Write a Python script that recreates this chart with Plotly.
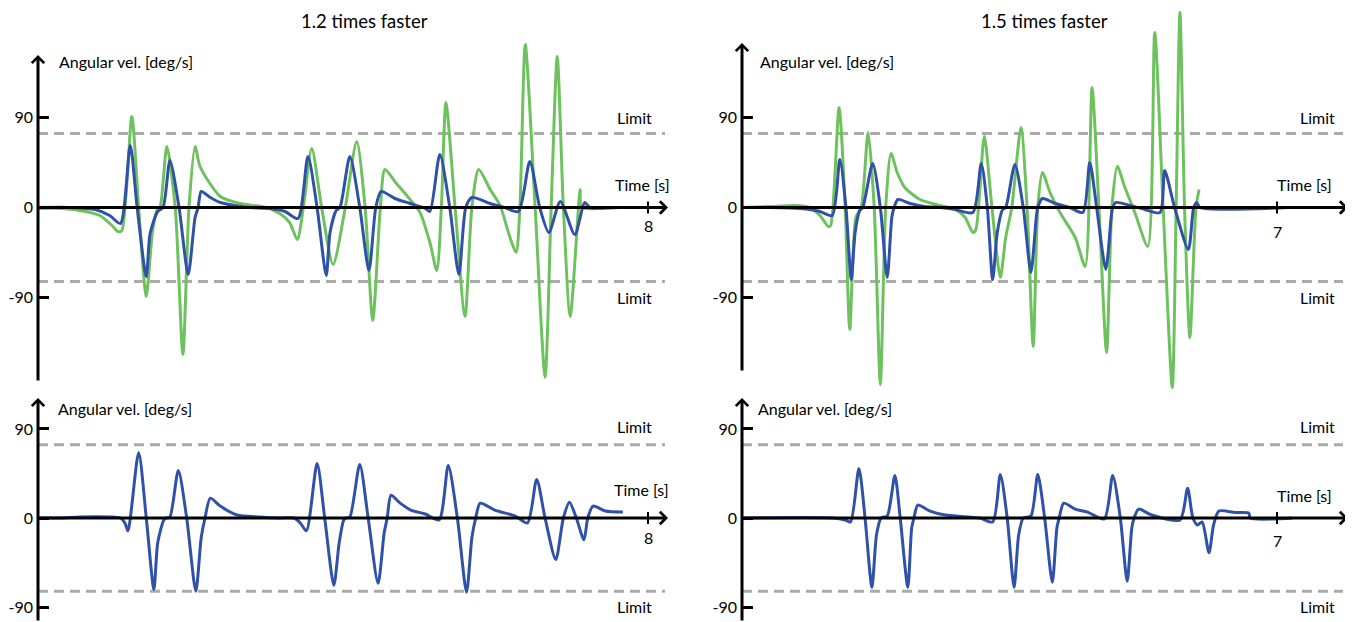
import plotly.graph_objects as go

# ---------------- data (time in s, angular velocity in deg/s) ----------------
tl_blue_t = [0, 0.42, 0.75, 0.94, 1.08, 1.21, 1.30, 1.42, 1.47, 1.57, 1.64, 1.73, 1.85, 1.97, 2.06, 2.10, 2.14, 2.26, 2.39, 2.58,
             2.78, 3.04, 3.24, 3.41, 3.54, 3.66, 3.78, 3.83, 3.91, 3.96, 4.09, 4.22, 4.34, 4.43, 4.50, 4.68, 4.88, 5.08, 5.14, 5.27,
             5.40, 5.52, 5.61, 5.69, 5.93, 6.12, 6.30, 6.45, 6.58, 6.70, 6.85, 7.04, 7.17, 7.24, 7.63]
tl_blue_v = [0, 0, -2, -8, -16, 62, 0, -69, -26, -4, 0, 47, 0, -67, -10, 0, 16, 10, 5, 2,
             0, -1, -4, -11, 51, 0, -68, -25, -3, 0, 51, 0, -63, 0, 16, 9, 4, -1, -4, 53,
             0, -67, 0, 10, 4, 0, -4, 46, 0, -25, 6, -27, 5, 0, 0]

tl_green_t = [0, 0.29, 0.55, 0.81, 0.97, 1.05, 1.10, 1.23, 1.32, 1.42, 1.50, 1.56, 1.60, 1.69, 1.80, 1.90, 1.98, 2.06, 2.12, 2.22,
              2.39, 2.65, 3.00, 3.17, 3.30, 3.40, 3.48, 3.59, 3.72, 3.87, 4.03, 4.18, 4.29, 4.39, 4.49, 4.55, 4.68, 4.88, 5.01, 5.14,
              5.23, 5.29, 5.35, 5.47, 5.60, 5.69, 5.78, 5.93, 6.06, 6.19, 6.27, 6.32, 6.39, 6.52, 6.65, 6.73, 6.81, 6.89, 6.98, 7.11,
              7.13, 7.45]
tl_green_v = [-1, -1, -3, -8, -18, -24, -23, 91, 0, -89, -25, -3, 0, 61, 0, -147, 0, 61, 42, 28,
              11, 4, 0, -6, -15, -32, 0, 59, 0, -57, 0, 66, 0, -113, 0, 38, 26, 8, -5, -35,
              -63, 0, 105, 0, -109, 0, 38, 18, 2, -30, -45, 0, 163, 0, -170, 0, 151, 0, -109, 18,
              0, 0]

tr_blue_t = [0, 0.37, 0.76, 1.02, 1.18, 1.28, 1.36, 1.43, 1.48, 1.54, 1.58, 1.71, 1.81, 1.90, 1.96, 1.99, 2.04, 2.20, 2.39, 2.59,
             2.79, 3.02, 3.13, 3.21, 3.28, 3.34, 3.41, 3.45, 3.57, 3.68, 3.78, 3.85, 3.87, 3.93, 4.10, 4.29, 4.46, 4.55, 4.64, 4.76,
             4.83, 4.85, 4.89, 5.08, 5.27, 5.47, 5.53, 5.66, 5.84, 5.91, 5.95, 5.99, 7.14]
tr_blue_v = [0, 0, -1, -4, -8, 48, 0, -72, -25, -3, 0, 44, 0, -70, -10, 0, 8, 4, 1, 0,
             -2, -5, 44, 0, -72, -25, -2, 0, 43, 0, -65, -10, 0, 9, 4, 0, -5, 45, 0, -62,
             -10, 0, 5, 2, -2, -5, 37, 0, -42, 0, 5, 0, 0]

tr_green_t = [0, 0.37, 0.69, 0.89, 1.02, 1.13, 1.16, 1.27, 1.35, 1.41, 1.49, 1.56, 1.65, 1.73, 1.81, 1.88, 1.95, 2.03, 2.13, 2.33,
              2.59, 2.79, 2.92, 3.02, 3.06, 3.17, 3.27, 3.38, 3.45, 3.53, 3.65, 3.73, 3.81, 3.87, 3.93, 4.03, 4.16, 4.36, 4.49, 4.58,
              4.67, 4.77, 4.84, 4.91, 5.01, 5.14, 5.31, 5.40, 5.51, 5.63, 5.68, 5.73, 5.79, 5.86, 5.94, 5.98]
tr_green_v = [0, 1, 2, 0, -8, -19, -18, 100, 0, -122, -10, 0, 75, 0, -177, 0, 54, 35, 20, 8,
              2, -2, -10, -25, -22, 71, 0, -70, -30, 0, 80, 0, -139, 0, 35, 15, -5, -30, -59, 120,
              0, -145, 0, 41, 20, -5, -39, 175, 0, -180, 0, 195, 0, -130, 0, 18]

bl_blue_t = [0, 0.29, 0.55, 0.94, 1.08, 1.14, 1.18, 1.32, 1.42, 1.52, 1.57, 1.65, 1.68, 1.73, 1.84, 1.95, 2.07, 2.14, 2.19, 2.26,
             2.39, 2.61, 2.91, 3.17, 3.36, 3.44, 3.52, 3.66, 3.76, 3.88, 3.95, 4.01, 4.04, 4.09, 4.22, 4.33, 4.46, 4.54, 4.58, 4.63,
             4.75, 4.89, 5.08, 5.26, 5.38, 5.50, 5.62, 5.69, 5.74, 5.80, 5.99, 6.26, 6.42, 6.54, 6.65, 6.79, 6.89, 6.97, 7.06, 7.16,
             7.21, 7.28, 7.44, 7.67]
bl_blue_v = [0, 0, 1, 1, 0, -5, -13, 66, 0, -72, -25, -2, 0, 1, 48, 0, -74, -20, 0, 20,
             12, 3, 1, 0, 0, -5, -13, 55, 0, -68, -25, -2, 0, 1, 54, 0, -66, -15, 0, 23,
             15, 8, 4, -2, 53, 0, -75, -20, 0, 15, 8, 2, -5, 39, 0, -42, 0, 16, 0, -22,
             0, 12, 7, 6]

br_blue_t = [0, 1.19, 1.35, 1.42, 1.53, 1.61, 1.70, 1.76, 1.82, 1.90, 2.00, 2.07, 2.17, 2.22, 2.25, 2.30, 2.46, 2.66, 3.11, 3.28,
             3.38, 3.47, 3.56, 3.62, 3.68, 3.78, 3.87, 3.96, 4.06, 4.12, 4.15, 4.21, 4.36, 4.52, 4.74, 4.85, 4.95, 5.04, 5.10, 5.13,
             5.19, 5.36, 5.73, 5.83, 5.90, 5.96, 6.02, 6.11, 6.17, 6.24, 6.45, 6.63, 6.65, 7.20]
br_blue_v = [0, 0, -2, -4, 50, 0, -70, -17, 0, 2, 43, 0, -70, -10, 0, 13, 7, 3, 0, -4,
             44, 0, -70, -17, 0, 2, 44, 0, -65, -10, 0, 15, 9, 6, -1, 43, 0, -64, -10, 0,
             9, 3, -2, 30, 0, -7, -4, -35, -7, 7, 5.5, 5, 0, 0]

titles = ["1.2 times faster", "1.5 times faster"]
y_label = "Angular vel. [deg/s]"
x_label = "Time [s]"
limit_text = "Limit"
y_ticks = [-90, 0, 90]
y_tick_text = ["-90", "0", "90"]
limit_value = 74
x_end_tick = [8, 7, 8, 7]

# ---------------- layout geometry (page pixels; page has an 8 px body margin) ----------------
OFF = 8
PAGE_W, PAGE_H = 1353, 622
W, H = PAGE_W - OFF, PAGE_H - OFF
BLUE = "#2F52A8"
GREEN = "#6EC25E"
GRAY = "#AAAAAA"
FONT = "Lato"
PPS_L, PPS_R = 76.25, 76.43      # pixels per second
X0_L, X0_R = 38, 742             # page x of t = 0
SPLIT = 390                      # page y split between rows
TOP_ZERO, TOP_SCALE = 207.5, 1.0
BOT_ZERO, BOT_SCALE = 518.0, 0.99


def px(p):
    return (p - OFF) / W


def py(p):
    return 1 - (p - OFF) / H


fig = go.Figure()

panels = [
    ("x", "y", [(tl_green_t, tl_green_v, GREEN), (tl_blue_t, tl_blue_v, BLUE)]),
    ("x2", "y2", [(tr_green_t, tr_green_v, GREEN), (tr_blue_t, tr_blue_v, BLUE)]),
    ("x3", "y3", [(bl_blue_t, bl_blue_v, BLUE)]),
    ("x4", "y4", [(br_blue_t, br_blue_v, BLUE)]),
]
for xa, ya, series in panels:
    for t, v, c in series:
        fig.add_trace(go.Scatter(x=t, y=v, mode="lines", xaxis=xa, yaxis=ya,
                                 line=dict(color=c, width=3, shape="spline", smoothing=0.7),
                                 showlegend=False, hoverinfo="skip"))

xr_l = [0, (PAGE_W / 2 - X0_L) / PPS_L]
xr_r = [0, (PAGE_W - X0_R) / PPS_R]
yr_top = [(TOP_ZERO - SPLIT) / TOP_SCALE, (TOP_ZERO - OFF) / TOP_SCALE]
yr_bot = [-(PAGE_H - BOT_ZERO) / BOT_SCALE, (BOT_ZERO - SPLIT) / BOT_SCALE]
top_dom = [py(SPLIT), 1]
bot_dom = [0, py(SPLIT)]

xcommon = dict(showgrid=False, zeroline=False, showline=False, showticklabels=False, ticks="", fixedrange=True)
ycommon = dict(showgrid=False, zeroline=False, showline=False, tickmode="array", tickvals=y_ticks,
               ticktext=y_tick_text, ticks="inside", ticklen=11, tickwidth=3, tickcolor="black",
               tickfont=dict(family=FONT, size=16, color="black"), ticklabelstandoff=4, fixedrange=True)

fig.update_layout(
    width=W, height=H, margin=dict(l=0, r=0, t=0, b=0, autoexpand=False),
    paper_bgcolor="white", plot_bgcolor="rgba(0,0,0,0)",
    font=dict(family=FONT, size=16, color="black"),
    xaxis=dict(domain=[px(X0_L), px(PAGE_W / 2)], range=xr_l, anchor="y", **xcommon),
    yaxis=dict(domain=top_dom, range=yr_top, anchor="x", **ycommon),
    xaxis2=dict(domain=[px(X0_R), 1], range=xr_r, anchor="y2", **xcommon),
    yaxis2=dict(domain=top_dom, range=yr_top, anchor="x2", **ycommon),
    xaxis3=dict(domain=[px(X0_L), px(PAGE_W / 2)], range=xr_l, anchor="y3", **xcommon),
    yaxis3=dict(domain=bot_dom, range=yr_bot, anchor="x3", **ycommon),
    xaxis4=dict(domain=[px(X0_R), 1], range=xr_r, anchor="y4", **xcommon),
    yaxis4=dict(domain=bot_dom, range=yr_bot, anchor="x4", **ycommon),
)

shapes = []
annotations = []


def arrow(xref, yref, x0, y0, x1, y1):
    annotations.append(dict(xref=xref, yref=yref, axref=xref, ayref=yref, x=x1, y=y1, ax=x0, ay=y0,
                            text="", showarrow=True, arrowhead=4, arrowsize=0.8, arrowwidth=3,
                            arrowcolor="black"))


def txt(xref, yref, x, y, s, size=16, xanchor="left"):
    annotations.append(dict(xref=xref, yref=yref, x=x, y=y, text=s, showarrow=False,
                            xanchor=xanchor, yanchor="middle",
                            font=dict(family=FONT, size=size, color="black")))


# panel configs (page pixels for label positions)
cfg = [
    # xref, yref, x0px, pps, zero, scale, x-arrow tip px, y-arrow bottom px, y-arrow top px,
    # tick label y px, ylabel x px, ylabel y px, time x px, time y px, limit x px, limit y px (up, down), dash end px
    dict(xr="x", yr="y", x0=X0_L, pps=PPS_L, zero=TOP_ZERO, sc=TOP_SCALE, tip=668, ybot=382, ytop=55,
         ticky=225, ylx=57, yly=61, tx=613, ty=184.5, lx=615, ly=(117, 297.5), dend=665, tick=x_end_tick[0]),
    dict(xr="x2", yr="y2", x0=X0_R, pps=PPS_R, zero=TOP_ZERO, sc=TOP_SCALE, tip=1348, ybot=372, ytop=43,
         ticky=231, ylx=758, yly=61, tx=1275, ty=184.5, lx=1298, ly=(117, 297.5), dend=1343, tick=x_end_tick[1]),
    dict(xr="x3", yr="y3", x0=X0_L, pps=PPS_L, zero=BOT_ZERO, sc=BOT_SCALE, tip=668, ybot=622, ytop=398,
         ticky=537, ylx=56, yly=408, tx=612, ty=489.5, lx=615, ly=(426.5, 606), dend=665, tick=x_end_tick[2]),
    dict(xr="x4", yr="y4", x0=X0_R, pps=PPS_R, zero=BOT_ZERO, sc=BOT_SCALE, tip=1348, ybot=622, ytop=398,
         ticky=540, ylx=756, yly=408, tx=1275, ty=495, lx=1298, ly=(426.5, 606), dend=1343, tick=x_end_tick[3]),
]
for c in cfg:
    xr, yr = c["xr"], c["yr"]
    tx_ = lambda p: (p - c["x0"]) / c["pps"]
    ty_ = lambda p: (c["zero"] - p) / c["sc"]
    # dashed limit lines
    for lv in (limit_value, -limit_value):
        shapes.append(dict(type="line", xref=xr, yref=yr, x0=0, x1=tx_(c["dend"]), y0=lv, y1=lv,
                           line=dict(color=GRAY, width=3, dash="10px,6px"), layer="below"))
    # end tick on time axis
    shapes.append(dict(type="line", xref=xr, yref=yr, x0=c["tick"], x1=c["tick"],
                       y0=-6 / c["sc"], y1=6 / c["sc"], line=dict(color="black", width=2)))
    # axes with arrow heads
    arrow(xr, yr, 0, 0, tx_(c["tip"]), 0)
    arrow(xr, yr, 0, ty_(c["ybot"]), 0, ty_(c["ytop"]))
    # labels
    txt(xr, yr, c["tick"], ty_(c["ticky"]), str(c["tick"]), xanchor="center")
    txt(xr, yr, tx_(c["ylx"]), ty_(c["yly"]), y_label)
    txt(xr, yr, tx_(c["tx"]), ty_(c["ty"]), x_label)
    txt(xr, yr, tx_(c["lx"]), ty_(c["ly"][0]), limit_text)
    txt(xr, yr, tx_(c["lx"]), ty_(c["ly"][1]), limit_text)

# titles
for s, cx in zip(titles, (364, 1044)):
    annotations.append(dict(xref="paper", yref="paper", x=px(cx), y=py(21), text=s, showarrow=False,
                            xanchor="center", yanchor="middle", font=dict(family=FONT, size=18.5, color="black")))

fig.update_layout(shapes=shapes, annotations=annotations)
fig.write_html("out.html")
